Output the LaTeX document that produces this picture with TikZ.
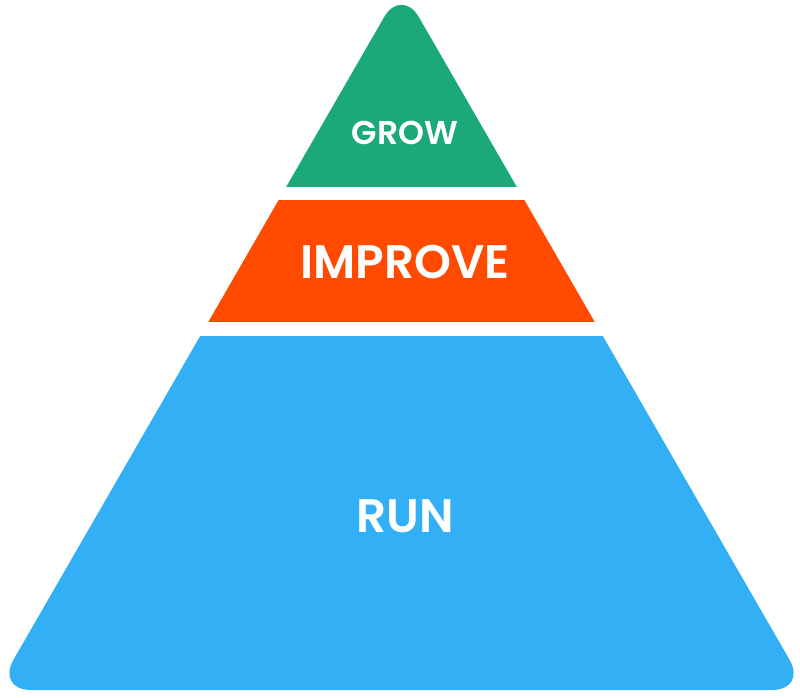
\documentclass[tikz,border=0pt]{standalone}
\usepackage{fontspec}
\setmainfont{Poppins}[BoldFont={Poppins SemiBold}]
\definecolor{growc}{RGB}{27,170,119}
\definecolor{impc}{RGB}{255,74,0}
\definecolor{runc}{RGB}{51,176,245}
\tikzset{
  lbl/.style={text=white, font=\bfseries, inner sep=0pt, anchor=center},
  small/.style={lbl, font=\fontsize{33}{33}\selectfont\bfseries},
  big/.style={lbl, font=\fontsize{47}{47}\selectfont\bfseries},
}
\begin{document}
\begin{tikzpicture}[x=1pt,y=-1pt]
\useasboundingbox (0,0) rectangle (800,698);
\coordinate (apex) at (401.5,-13);
\coordinate (bl) at (-4,690);
\coordinate (br) at (807,690);
\coordinate (bm) at (400,690);
\begin{scope}
  \clip[rounded corners=35pt] (bm) -- (br) -- (apex) -- (bl) -- cycle;
  \fill[growc] (0,-20) rectangle (800,187);
  \fill[impc] (0,200) rectangle (800,322);
  \fill[runc] (0,336) rectangle (800,700);
\end{scope}
\node[small] (grow) at (405,133) {GROW};
\node[big] (improve) at (405,262) {IMPROVE};
\node[big] (run) at (405,516) {RUN};
\end{tikzpicture}
\end{document}
